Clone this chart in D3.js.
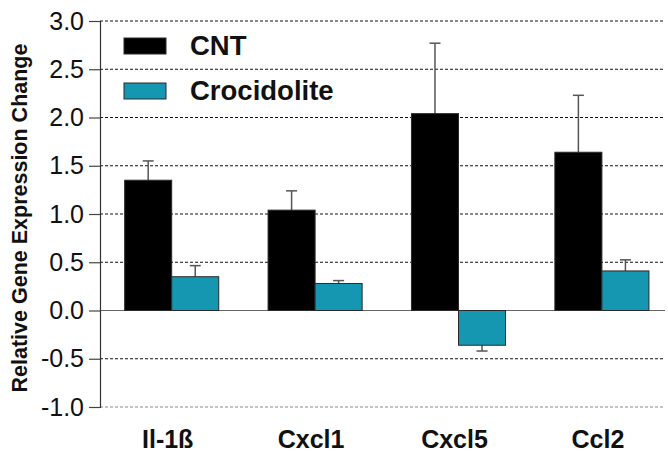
<!DOCTYPE html>
<html>
<head>
<meta charset="utf-8">
<script src="https://cdn.jsdelivr.net/npm/d3@7"></script>
<style>
  html, body { margin: 0; padding: 0; background: #fff; }
  svg { display: block; font-family: "Liberation Sans", Arial, Helvetica, sans-serif; }
</style>
</head>
<body>
<svg id="chart" width="668" height="453"></svg>
<script>
// Gene expression data
const genes = ["Il-1ß", "Cxcl1", "Cxcl5", "Ccl2"];
const seriesNames = ["CNT", "Crocidolite"];
const cntMean = [1.35, 1.04, 2.04, 1.64];
const cntErr = [0.20, 0.20, 0.73, 0.59];
const crocMean = [0.35, 0.28, -0.36, 0.41];
const crocErr = [0.115, 0.03, 0.06, 0.115];
const yTicks = [-1.0, -0.5, 0.0, 0.5, 1.0, 1.5, 2.0, 2.5, 3.0];

const colors = { "CNT": "#000000", "Crocidolite": "#1597b1" };

const svg = d3.select("#chart");
const axisX = 100, gridRight = 665;
const yTop = 21, yBottom = 407;

const y = d3.scaleLinear().domain([-1, 3]).range([yBottom, yTop]);
const x0 = d3.scaleBand().domain(genes).range([axisX, axisX + 573.6])
  .paddingInner(0.344).paddingOuter(0.172);
const x1 = d3.scaleBand().domain(seriesNames).range([0, x0.bandwidth()]);

// Horizontal grid lines
svg.append("g").selectAll("line").data(yTicks).join("line")
  .attr("x1", axisX).attr("x2", gridRight)
  .attr("y1", d => y(d)).attr("y2", d => y(d))
  .attr("stroke", d => d === 0 ? "#666" : (d === -1 ? "#888" : "#111"))
  .attr("stroke-width", d => d === 0 ? 1.2 : 1)
  .attr("stroke-dasharray", d => d === 0 ? null : "3,2");

// Y axis (plain hyphen for negative labels)
const fmt = d3.format(".1f");
const yAxis = d3.axisLeft(y).tickValues(yTicks)
  .tickFormat(d => fmt(d).replace("\u2212", "-")).tickSize(11).tickPadding(5);
const gy = svg.append("g").attr("transform", `translate(${axisX},0)`).call(yAxis);
gy.select(".domain").attr("stroke", "#333").attr("stroke-width", 1.2);
gy.selectAll(".tick line").attr("stroke", "#444").attr("stroke-width", 1.2);
gy.selectAll(".tick text").attr("font-size", 25).attr("fill", "#111")
  .attr("font-family", "'Liberation Sans', Arial, sans-serif");

// Y axis title
svg.append("text")
  .attr("transform", `translate(27,${(yTop + yBottom) / 2 + 4}) rotate(-90)`)
  .attr("text-anchor", "middle")
  .attr("font-size", 21.5).attr("font-weight", "bold").attr("fill", "#111")
  .text("Relative Gene Expression Change");

// Bars and error bars
const rows = [];
genes.forEach((g, i) => {
  rows.push({ gene: g, series: "CNT", v: cntMean[i], e: cntErr[i] });
  rows.push({ gene: g, series: "Crocidolite", v: crocMean[i], e: crocErr[i] });
});

const capW = 11;
const errG = svg.append("g");
rows.forEach(r => {
  const cx = x0(r.gene) + x1(r.series) + x1.bandwidth() / 2;
  const tip = r.v >= 0 ? r.v + r.e : r.v - r.e;
  errG.append("line").attr("x1", cx).attr("x2", cx)
    .attr("y1", y(r.v)).attr("y2", y(tip))
    .attr("stroke", "#555").attr("stroke-width", 1.5);
  errG.append("line").attr("x1", cx - capW / 2).attr("x2", cx + capW / 2)
    .attr("y1", y(tip)).attr("y2", y(tip))
    .attr("stroke", "#555").attr("stroke-width", 1.5);
});

svg.append("g").selectAll("rect").data(rows).join("rect")
  .attr("x", d => x0(d.gene) + x1(d.series))
  .attr("width", x1.bandwidth())
  .attr("y", d => y(Math.max(0, d.v)))
  .attr("height", d => Math.abs(y(d.v) - y(0)))
  .attr("fill", d => colors[d.series])
  .attr("stroke", "#2a2a2a").attr("stroke-width", 1);

// Category labels
svg.append("g").selectAll("text").data(genes).join("text")
  .attr("x", d => x0(d) + x0.bandwidth() / 2 - 4)
  .attr("y", 448)
  .attr("text-anchor", "middle")
  .attr("font-size", 25).attr("font-weight", "bold").attr("fill", "#111")
  .text(d => d);

// Legend
const legend = svg.append("g");
const legendRows = [{ name: "CNT", y0: 38 }, { name: "Crocidolite", y0: 83 }];
legendRows.forEach(l => {
  legend.append("rect").attr("x", 124).attr("y", l.y0).attr("width", 42).attr("height", 16)
    .attr("fill", colors[l.name]).attr("stroke", "#2a2a2a").attr("stroke-width", 1);
  legend.append("text").attr("x", 190).attr("y", l.y0 + 17)
    .attr("font-size", 27.5).attr("font-weight", "bold").attr("fill", "#111")
    .text(l.name);
});
</script>
</body>
</html>
